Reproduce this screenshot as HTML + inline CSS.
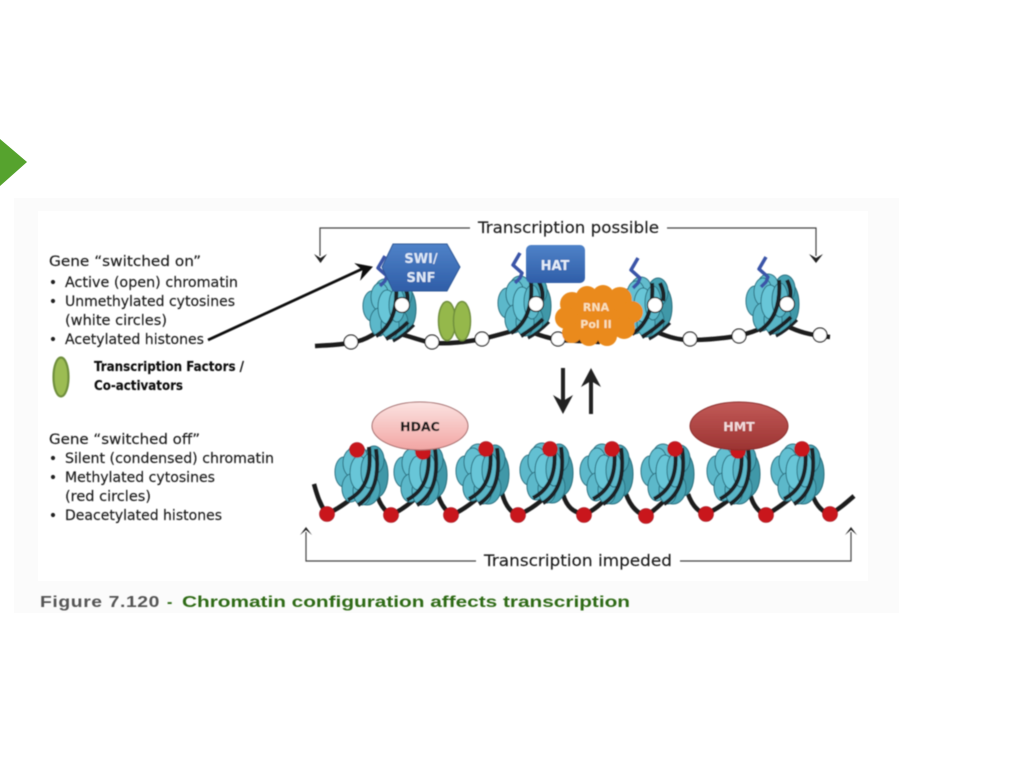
<!DOCTYPE html>
<html>
<head>
<meta charset="utf-8">
<style>
html,body{margin:0;padding:0;background:#fff;width:1024px;height:768px;overflow:hidden}
svg{display:block}
text{font-family:"DejaVu Sans","Liberation Sans",sans-serif;fill:#1f1f1f;stroke:#1f1f1f;stroke-width:.15px}
</style>
</head>
<body>
<svg width="1024" height="768" viewBox="0 0 1024 768" xmlns="http://www.w3.org/2000/svg">
<defs>
<linearGradient id="blue" x1="0" y1="0" x2="0" y2="1"><stop offset="0" stop-color="#4f82c8"/><stop offset="1" stop-color="#2f5ea8"/></linearGradient>
<linearGradient id="pink" x1="0" y1="0" x2="0" y2="1"><stop offset="0" stop-color="#fbe3e1"/><stop offset="1" stop-color="#f2a5a3"/></linearGradient>
<linearGradient id="dred" x1="0" y1="0" x2="0" y2="1"><stop offset="0" stop-color="#c25a58"/><stop offset="1" stop-color="#9c3432"/></linearGradient>
<filter id="blur" x="-5%" y="-5%" width="110%" height="110%"><feGaussianBlur stdDeviation="0.4"/></filter>
<g id="core">
<ellipse cx="16" cy="0" rx="11" ry="22" fill="#3f98a8" stroke="#256a78"/>
<ellipse cx="13" cy="-15" rx="10" ry="14" fill="#46a3b4" stroke="#2a7080"/>
<ellipse cx="6" cy="14" rx="13" ry="16" fill="#4aa5b6" stroke="#2a7080"/>
<ellipse cx="-4" cy="-19" rx="10" ry="11" fill="#62bccd" stroke="#2a7080"/>
<ellipse cx="-17" cy="-3" rx="9" ry="15" fill="#5cb8ca" stroke="#2a7080"/>
<ellipse cx="-9" cy="-12" rx="9" ry="14" fill="#64c0d2" stroke="#2a7080"/>
<ellipse cx="-10" cy="13" rx="9" ry="14" fill="#5cb8ca" stroke="#2a7080"/>
<ellipse cx="1" cy="16" rx="9" ry="14" fill="#58b4c6" stroke="#2a7080"/>
<ellipse cx="-2" cy="-2" rx="9" ry="17" fill="#68c6d8" stroke="#2a7080"/>
<ellipse cx="8" cy="-4" rx="8" ry="17" fill="#5cb8ca" stroke="#2a7080"/>
</g>
<g id="nucClosed">
<use href="#core"/>
<g fill="none" stroke="#1d2326" stroke-width="4">
<path d="M-13 25 C4 16 11 0 8 -28"/>
<path d="M-3 30 C13 20 19 2 15 -26"/>
</g>
</g>
<g id="nucOpen">
<use href="#core"/>
<g fill="none" stroke="#1d2326" stroke-width="4">
<path d="M-13 27 C2 18 9 0 7 -24"/>
<path d="M15 -24 C19 -16 19 -10 18 -6"/>
<path d="M-3 30 C5 25 12 20 19 13"/>
<path d="M4 32 C12 28 19 22 25 16" stroke-width="3"/>
</g>
</g>
<path id="tail" d="M3 -15 L-4 -3 L5 5 L3 10 L-2 15" fill="none" stroke="#3b55a8" stroke-width="3.500" stroke-linejoin="round"/>
</defs>

<rect width="1024" height="768" fill="#fff"/>
<polygon points="0,139 27,162 0,186" fill="#56a32e"/>
<rect x="14" y="198" width="885" height="415" fill="#fbfbfb"/>
<rect x="38" y="211" width="830" height="370" fill="#fff"/>

<g filter="url(#blur)">
<!-- left text -->
<g font-size="14">
<text x="49" y="266" textLength="152" lengthAdjust="spacingAndGlyphs">Gene “switched on”</text>
<text x="65" y="287" textLength="173" lengthAdjust="spacingAndGlyphs">Active (open) chromatin</text>
<text x="65" y="306" textLength="170" lengthAdjust="spacingAndGlyphs">Unmethylated cytosines</text>
<text x="65" y="325" textLength="102" lengthAdjust="spacingAndGlyphs">(white circles)</text>
<text x="65" y="344" textLength="139" lengthAdjust="spacingAndGlyphs">Acetylated histones</text>
<text x="94" y="371" font-size="13" font-weight="bold" style="fill:#111" textLength="150" lengthAdjust="spacingAndGlyphs">Transcription Factors /</text>
<text x="94" y="390" font-size="13" font-weight="bold" style="fill:#111" textLength="89" lengthAdjust="spacingAndGlyphs">Co-activators</text>
<text x="49" y="444" textLength="151" lengthAdjust="spacingAndGlyphs">Gene “switched off”</text>
<text x="65" y="463" textLength="209" lengthAdjust="spacingAndGlyphs">Silent (condensed) chromatin</text>
<text x="65" y="482" textLength="150" lengthAdjust="spacingAndGlyphs">Methylated cytosines</text>
<text x="65" y="501" textLength="86" lengthAdjust="spacingAndGlyphs">(red circles)</text>
<text x="65" y="520" textLength="157" lengthAdjust="spacingAndGlyphs">Deacetylated histones</text>
</g>
<g fill="#222">
<circle cx="53" cy="282" r="2.100"/><circle cx="53" cy="301" r="2.100"/><circle cx="53" cy="339" r="2.100"/>
<circle cx="53" cy="458" r="2.100"/><circle cx="53" cy="477" r="2.100"/><circle cx="53" cy="515" r="2.100"/>
</g>
<ellipse cx="61" cy="377" rx="7.500" ry="19.500" fill="#9cbc52" stroke="#6f8f3c" stroke-width="2.200"/>

<!-- Acetylated arrow -->
<path d="M208 340 L362 269" stroke="#111" stroke-width="2.800" fill="none"/>
<path d="M372 267 L356 264 L363 270 L361 279 Z" fill="#111" stroke="#111"/>

<!-- top bracket -->
<path d="M470 228 H320 V256" fill="none" stroke="#444" stroke-width="1.200"/>
<path d="M314 254 L320.500 258 L327 254 L320.500 263 Z" fill="#222"/>
<path d="M667 228 H816 V256" fill="none" stroke="#444" stroke-width="1.200"/>
<path d="M809 254 L816 258 L823 254 L816 263 Z" fill="#222"/>
<text x="478" y="233" font-size="16" textLength="181" lengthAdjust="spacingAndGlyphs">Transcription possible</text>

<!-- open chain -->
<g fill="none" stroke="#1b1b1b" stroke-width="4.500">
<path d="M315 346 C335 345 350 344 362 340 C370 337 376 333 381 329"/>
<path d="M400 334 C412 337 422 341 432 343 C450 344 465 342 482 339 C495 336 505 333 516 330"/>
<path d="M532 332 C540 336 550 338 558 340 L600 342"/>
<path d="M657 332 C668 337 680 340 690 340 C710 340 725 338 738 336 C750 333 758 330 764 327"/>
<path d="M787 326 C797 331 808 335 830 337"/>
</g>

<!-- open nucleosomes -->
<use href="#nucOpen" x="389" y="309"/>
<use href="#tail" x="382" y="271"/>
<use href="#nucOpen" x="524" y="306"/>
<use href="#tail" x="517" y="268"/>
<use href="#nucOpen" x="645" y="307"/>
<use href="#tail" x="635" y="273"/>
<use href="#nucOpen" x="772" y="304"/>
<use href="#tail" x="763" y="272"/>

<g fill="#fff" stroke="#222" stroke-width="1.200">
<circle cx="402" cy="305" r="7.500"/><circle cx="536" cy="304" r="7.500"/><circle cx="655" cy="305" r="7.500"/><circle cx="787" cy="304" r="7.500"/>
<circle cx="351" cy="342" r="7"/><circle cx="432" cy="342" r="7"/><circle cx="482" cy="339" r="7"/><circle cx="558" cy="339" r="7"/>
<circle cx="690" cy="339" r="7"/><circle cx="739" cy="336" r="7"/><circle cx="820" cy="335" r="7"/>
</g>

<!-- transcription factor pair -->
<ellipse cx="447" cy="321" rx="8.500" ry="19.500" fill="#95b84c" stroke="#6f8f3c" stroke-width="1.500"/>
<ellipse cx="462" cy="321" rx="8.500" ry="19.500" fill="#95b84c" stroke="#6f8f3c" stroke-width="1.500"/>

<!-- SWI/SNF -->
<polygon points="393,244 447,244 460,267 447,291 393,291 382,267" fill="url(#blue)" stroke="#2d5796" stroke-width="1"/>
<text x="421" y="263" font-size="13" font-weight="bold" text-anchor="middle" style="fill:#dfe9f7;stroke:none">SWI/</text>
<text x="421" y="282" font-size="13" font-weight="bold" text-anchor="middle" style="fill:#dfe9f7;stroke:none">SNF</text>

<!-- HAT -->
<rect x="526" y="245" width="59" height="38" rx="5" fill="url(#blue)"/>
<text x="555" y="270" font-size="13" font-weight="bold" text-anchor="middle" style="fill:#e6eef9;stroke:none">HAT</text>

<!-- RNA Pol II -->
<g fill="#ea8a1a">
<ellipse cx="598" cy="317" rx="38" ry="23"/>
<circle cx="572" cy="304" r="12"/><circle cx="587" cy="297" r="11"/><circle cx="603" cy="296" r="11"/><circle cx="620" cy="299" r="12"/>
<circle cx="632" cy="312" r="11"/><circle cx="566" cy="318" r="11"/><circle cx="572" cy="333" r="10"/><circle cx="589" cy="336" r="10"/><circle cx="607" cy="336" r="10"/><circle cx="624" cy="328" r="11"/>
</g>
<text x="596" y="311" font-size="11" font-weight="bold" text-anchor="middle" style="fill:#f9e1bd;stroke:none">RNA</text>
<text x="596" y="328" font-size="11" font-weight="bold" text-anchor="middle" style="fill:#f9e1bd;stroke:none">Pol II</text>

<!-- vertical arrows -->
<path d="M563 368 V403" stroke="#222" stroke-width="4"/>
<path d="M553 395 L563 401 L573 395 L563 414 Z" fill="#222"/>
<path d="M591 381 V414" stroke="#222" stroke-width="4"/>
<path d="M581 387 L591 381 L601 387 L591 368 Z" fill="#222"/>

<!-- closed chain -->
<g fill="none" stroke="#1b1b1b" stroke-width="4.500">
<path d="M314 484 C317 495 320 505 327 514 C340 508 350 500 362 490"/>
<path d="M377 495 C380 505 385 511 391 515 C402 510 412 502 425 490"/>
<path d="M438 495 C441 505 446 511 452 515 C463 510 473 503 487 490"/>
<path d="M502 493 C505 505 510 512 518 515 C530 510 540 503 550 492"/>
<path d="M563 494 C566 505 572 513 585 514 C595 510 602 503 612 492"/>
<path d="M626 494 C630 505 636 513 646 516 C655 510 663 503 672 492"/>
<path d="M688 494 C692 505 698 512 706 514 C715 510 726 503 738 492"/>
<path d="M750 494 C753 505 758 512 766 515 C775 510 785 503 798 492"/>
<path d="M812 494 C816 505 822 512 830 514 C838 510 846 503 854 496"/>
</g>

<!-- closed nucleosomes -->
<use href="#nucClosed" x="361" y="475"/>
<use href="#nucClosed" x="420" y="475"/>
<use href="#nucClosed" x="482" y="474"/>
<use href="#nucClosed" x="546" y="473"/>
<use href="#nucClosed" x="606" y="474"/>
<use href="#nucClosed" x="667" y="474"/>
<use href="#nucClosed" x="733" y="474"/>
<use href="#nucClosed" x="797" y="474"/>

<!-- red circles -->
<g fill="#c9141f" stroke="#9a1018" stroke-width=".6">
<circle cx="357" cy="450" r="7.500"/><circle cx="423" cy="452" r="7.500"/><circle cx="486" cy="449" r="7.500"/><circle cx="550" cy="449" r="7.500"/>
<circle cx="612" cy="449" r="7.500"/><circle cx="675" cy="449" r="7.500"/><circle cx="738" cy="451" r="7.500"/><circle cx="802" cy="449" r="7.500"/>
<circle cx="327" cy="514" r="7.500"/><circle cx="391" cy="515" r="7.500"/><circle cx="451" cy="515" r="7.500"/><circle cx="518" cy="515" r="7.500"/>
<circle cx="584" cy="515" r="7.500"/><circle cx="646" cy="516" r="7.500"/><circle cx="706" cy="514" r="7.500"/><circle cx="766" cy="515" r="7.500"/><circle cx="830" cy="514" r="7.500"/>
</g>

<!-- HDAC / HMT -->
<ellipse cx="420" cy="426" rx="48" ry="24" fill="url(#pink)" stroke="#a46a6a" stroke-width="1"/>
<text x="420" y="431" font-size="12.500" font-weight="bold" text-anchor="middle" style="fill:#151515">HDAC</text>
<ellipse cx="739" cy="426" rx="49" ry="24" fill="url(#dred)" stroke="#8a2c2a" stroke-width="1"/>
<text x="739" y="431" font-size="12.500" font-weight="bold" text-anchor="middle" style="fill:#f2dcdc;stroke:none">HMT</text>

<!-- bottom bracket -->
<path d="M476 561 H306 V532" fill="none" stroke="#444" stroke-width="1.200"/>
<path d="M300 535 L306 530 L312 535 L306 527 Z" fill="#222"/>
<path d="M680 561 H851 V532" fill="none" stroke="#444" stroke-width="1.200"/>
<path d="M845 535 L851 530 L857 535 L851 527 Z" fill="#222"/>
<text x="484" y="566" font-size="16" textLength="188" lengthAdjust="spacingAndGlyphs">Transcription impeded</text>

<!-- caption -->
<text x="40" y="607" font-size="16" font-weight="bold" textLength="120" lengthAdjust="spacingAndGlyphs" style="fill:#555;stroke:none;font-family:'Liberation Sans',sans-serif;letter-spacing:.5px">Figure 7.120</text>
<text x="167" y="607" font-size="16" font-weight="bold" style="fill:#2f6b14;stroke:none;font-family:'Liberation Sans',sans-serif">-</text>
<text x="182" y="607" font-size="16" font-weight="bold" textLength="448" lengthAdjust="spacingAndGlyphs" style="fill:#2f6b14;stroke:none;font-family:'Liberation Sans',sans-serif">Chromatin configuration affects transcription</text>
</g>
</svg>
</body>
</html>
